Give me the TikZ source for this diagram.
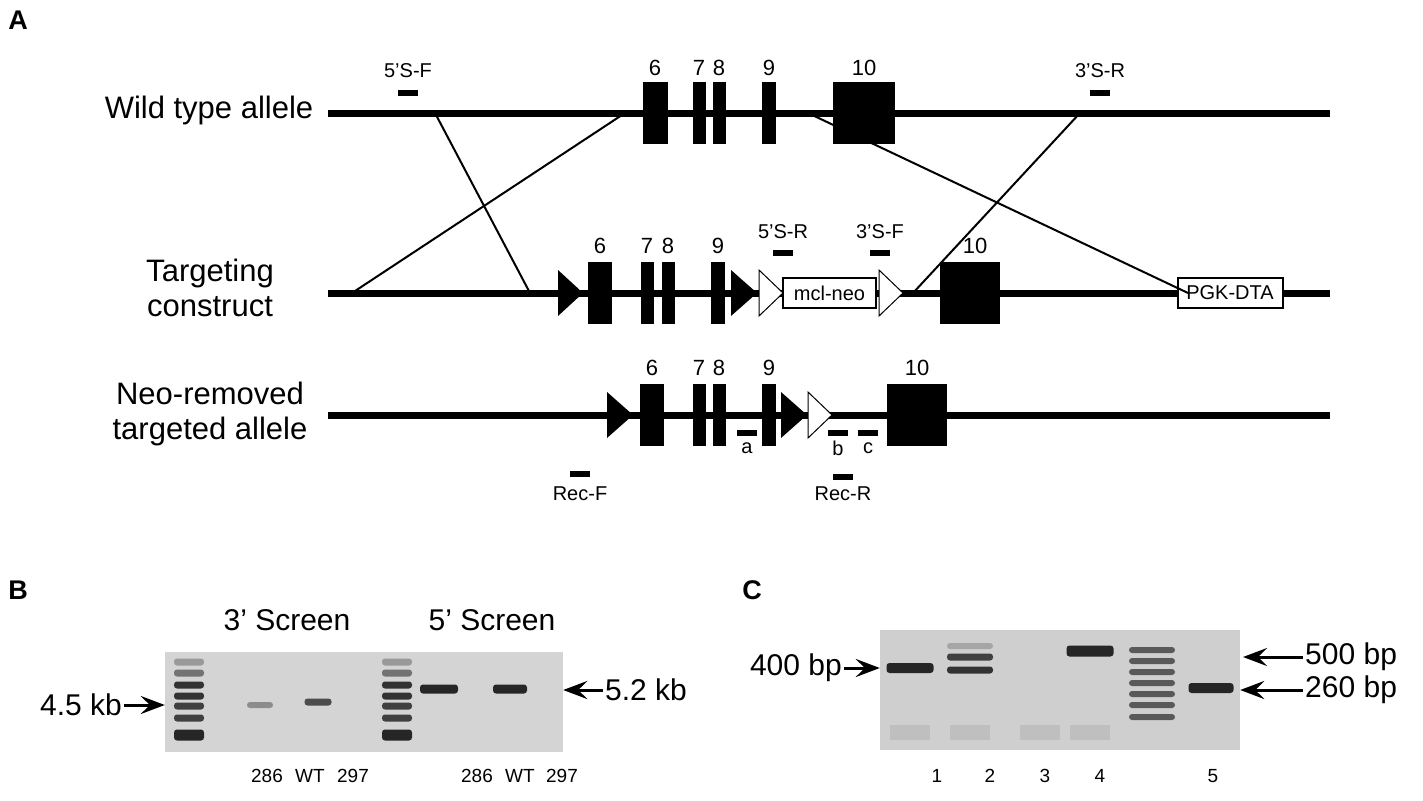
\documentclass[tikz,border=0pt]{standalone}
\usetikzlibrary{arrows.meta}
\usepackage{fontspec}
\setmainfont{Liberation Sans}
\begin{document}
\begin{tikzpicture}[x=1pt,y=-1pt,
  dna/.style={line width=7pt},
  exon/.style={fill=black,inner sep=0pt,minimum height=62pt},
  num/.style={font=\fontsize{22}{22}\selectfont,inner sep=0pt},
  lab/.style={font=\fontsize{31}{35}\selectfont,align=center,inner sep=0pt},
  primer/.style={fill=black,inner sep=0pt,minimum width=20pt,minimum height=6pt},
  plab/.style={font=\fontsize{20}{20}\selectfont,inner sep=0pt},
  box/.style={draw,line width=2pt,fill=white,inner sep=0pt,minimum height=30pt,font=\fontsize{20}{20}\selectfont},
  cross/.style={line width=2pt},
  panel/.style={font=\fontsize{27}{27}\selectfont\bfseries,inner sep=0pt},
  gel/.style={fill=black!17,inner sep=0pt},
  band/.style={fill=black!85,rounded corners=3pt,inner sep=0pt,minimum height=8pt},
  glab/.style={font=\fontsize{19}{19}\selectfont,inner sep=0pt},
  big/.style={font=\fontsize{30}{30}\selectfont,inner sep=0pt},
  arr/.style={line width=3pt,-{Stealth[length=24pt,width=18pt,inset=9pt]}},
  tri/.style={fill=black},
  wtri/.style={fill=white,draw=black,line width=1pt}]
\useasboundingbox (0,0) rectangle (1423,800);
\fill[white] (0,0) rectangle (1423,800);
\node[panel] (A) at (18,20) {A};
% lines
\coordinate (w1) at (328,113); \coordinate (w2) at (1330,113);
\coordinate (t1) at (328,293); \coordinate (t2) at (1330,293);
\coordinate (n1) at (328,415); \coordinate (n2) at (1330,415);
\draw[dna] (w1)--(w2); \draw[dna] (t1)--(t2); \draw[dna] (n1)--(n2);
\node[lab] (lw) at (209,110) {Wild type allele};
\node[lab] (lt) at (210,288) {Targeting\\construct};
\node[lab] (ln) at (210,414) {Neo-removed\\targeted allele};
% WT exons
\node[exon,minimum width=25pt] (w6) at (655.5,113) {};
\node[exon,minimum width=13pt] (w7) at (699.5,113) {};
\node[exon,minimum width=13pt] (w8) at (719.5,113) {};
\node[exon,minimum width=14pt] (w9) at (769,113) {};
\node[exon,minimum width=62pt] (w10) at (864,113) {};
\node[num] at (655,68) {6}; \node[num] at (699,68) {7}; \node[num] at (719,68) {8};
\node[num] at (769,68) {9}; \node[num] at (864,68) {10};
\node[primer] (p1) at (408,93) {}; \node[plab] at (408,71) {5’S-F};
\node[primer] (p2) at (1100,93) {}; \node[plab] at (1100,71) {3’S-R};
% targeting
\fill[tri] (558,270)--(583,293)--(558,316)--cycle;
\node[exon,minimum width=24pt] (t6) at (600,293) {};
\node[exon,minimum width=13pt] (t7) at (647.5,293) {};
\node[exon,minimum width=13pt] (t8) at (668,293) {};
\node[exon,minimum width=14pt] (t9) at (718,293) {};
\fill[tri] (731,270)--(757,293)--(731,316)--cycle;
\draw[wtri] (759,270)--(783,293)--(759,316)--cycle;
\node[box,minimum width=93pt] (neo) at (829.5,293) {mcl-neo};
\draw[wtri] (879,270)--(903,293)--(879,316)--cycle;
\node[exon,minimum width=60pt] (t10) at (970,293) {};
\node[box,minimum width=105pt] (pgk) at (1230,293) {PGK-DTA};
\node[num] at (600,246) {6}; \node[num] at (647,246) {7}; \node[num] at (668,246) {8};
\node[num] at (718,246) {9}; \node[num] at (975,246) {10};
\node[primer] (p3) at (783,253) {}; \node[plab] at (783,232) {5’S-R};
\node[primer] (p4) at (880,253) {}; \node[plab] at (880,232) {3’S-F};
% crossings
\coordinate (c1a) at (435,113); \coordinate (c1b) at (530,293);
\coordinate (c2a) at (625,113); \coordinate (c2b) at (352,293);
\coordinate (c3a) at (808,113); \coordinate (c3b) at (1188,293);
\coordinate (c4a) at (1080,113); \coordinate (c4b) at (913,293);
\draw[cross] (c1a)--(c1b); \draw[cross] (c2a)--(c2b);
\draw[cross] (c3a)--(c3b); \draw[cross] (c4a)--(c4b);
% neo-removed
\fill[tri] (607,392)--(633,415)--(607,438)--cycle;
\node[exon,minimum width=24pt] (n6) at (652,415) {};
\node[exon,minimum width=13pt] (n7) at (699.5,415) {};
\node[exon,minimum width=13pt] (n8) at (719.5,415) {};
\node[exon,minimum width=14pt] (n9) at (769,415) {};
\fill[tri] (781,392)--(807,415)--(781,438)--cycle;
\draw[wtri] (808,392)--(832,415)--(808,438)--cycle;
\node[exon,minimum width=60pt] (n10) at (917,415) {};
\node[num] at (652,368) {6}; \node[num] at (699,368) {7}; \node[num] at (719,368) {8};
\node[num] at (769,368) {9}; \node[num] at (917,368) {10};
\node[primer] (pa) at (747,433) {}; \node[plab] at (747,448) {a};
\node[primer] (pb) at (838,433) {}; \node[plab] at (838,448) {b};
\node[primer] (pc) at (868,433) {}; \node[plab] at (868,448) {c};
\node[primer] (pr1) at (580,474) {}; \node[plab] at (580,494) {Rec-F};
\node[primer] (pr2) at (843,477) {}; \node[plab] at (843,494) {Rec-R};
% panel B
\node[panel] (B) at (18,590) {B};
\node[big] at (287,620) {3’ Screen};
\node[big] at (492,620) {5’ Screen};
\node[gel,minimum width=398pt,minimum height=100pt] (gB) at (364,702) {};
\foreach \x in {189,397}{
 \foreach \y/\s in {662/40,673/55,685/80,696/80,706/75,718/75}{
  \node[band,fill=black!\s,minimum width=30pt,minimum height=7pt] at (\x,\y) {};}
 \node[band,minimum width=30pt,minimum height=11pt] at (\x,735) {};}
\node[band,fill=black!45,minimum width=26pt,minimum height=6pt] (b1) at (260,705) {};
\node[band,fill=black!70,minimum width=27pt,minimum height=7pt] (b2) at (318,702) {};
\node[band,minimum width=38pt,minimum height=9pt] (b3) at (439,689) {};
\node[band,minimum width=34pt,minimum height=9pt] (b4) at (510,689) {};
\node[big,anchor=east] (k45) at (122,705) {4.5 kb};
\draw[arr] (k45.east) ++(2,0) -- (gB.west|-k45);
\node[big,anchor=west] (k52) at (605,690) {5.2 kb};
\draw[arr] (k52.west) ++(-2,0) -- (gB.east|-k52);
\foreach \x/\t in {267/286,310/WT,353/297,477/286,520/WT,562/297}{\node[glab] at (\x,776) {\t};}
% panel C
\node[panel] (C) at (752,590) {C};
\node[gel,fill=black!19,minimum width=360pt,minimum height=120pt] (gC) at (1060,690) {};
\foreach \x in {910,970,1040,1090}{\fill[black!25] (\x-20,725) rectangle (\x+20,740);}
\node[band,minimum width=47pt,minimum height=10pt] (c1) at (910,668) {};
\node[band,fill=black!35,minimum width=46pt,minimum height=6pt] at (970,646) {};
\node[band,fill=black!75,minimum width=46pt,minimum height=7pt] (c2a) at (970,657) {};
\node[band,fill=black!80,minimum width=46pt,minimum height=7pt] (c2b) at (970,670) {};
\node[band,minimum width=47pt,minimum height=11pt] (c4) at (1090,651) {};
\foreach \y in {650,661,672,683,694,705,717}{\node[band,fill=black!65,minimum width=46pt,minimum height=6pt] at (1152,\y) {};}
\node[band,minimum width=45pt,minimum height=10pt] (c5) at (1211,688) {};
\node[big,anchor=east] (bp4) at (842,668) {400 bp};
\draw[arr] (bp4.east) ++(2,0) -- (gC.west|-bp4);
\node[big,anchor=west] (bp5) at (1305,657) {500 bp};
\draw[arr] (bp5.west) ++(-2,0) -- (1243,657);
\node[big,anchor=west] (bp2) at (1305,690) {260 bp};
\draw[arr] (bp2.west) ++(-2,0) -- (gC.east|-bp2);
\foreach \x/\t in {937/1,990/2,1045/3,1100/4,1213/5}{\node[glab] at (\x,776) {\t};}
\end{tikzpicture}
\end{document}
